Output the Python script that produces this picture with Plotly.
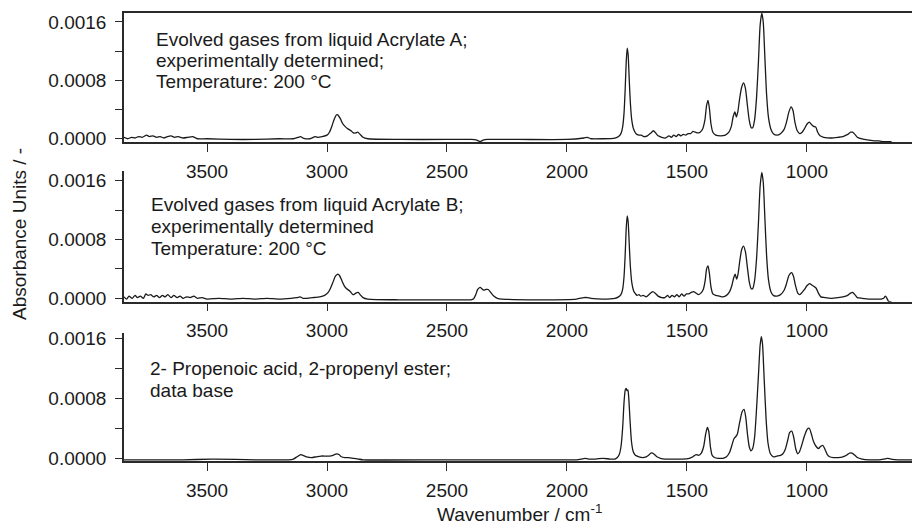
import plotly.graph_objects as go

# ---------------- spectra (wavenumber / cm-1, absorbance) ----------------
wn_a = [3846, 3830, 3815, 3800, 3785, 3770, 3752, 3740, 3725, 3710, 3695, 3680, 3665, 3650, 3635,
        3620, 3600, 3580, 3560, 3540, 3500, 3400, 3300, 3200, 3140, 3120, 3110, 3100, 3070, 3050,
        3040, 3020, 3000, 2990, 2980, 2970, 2960, 2955, 2945, 2935, 2925, 2915, 2900, 2890, 2880,
        2872, 2862, 2850, 2830, 2700, 2500, 2400, 2375, 2362, 2350, 2330, 2200, 2000, 1930, 1915,
        1900, 1850, 1800, 1785, 1775, 1768, 1762, 1757, 1753, 1749, 1745, 1741, 1736, 1730, 1722,
        1712, 1700, 1690, 1680, 1665, 1650, 1640, 1630, 1620, 1605, 1590, 1575, 1565, 1555, 1545,
        1535, 1525, 1515, 1505, 1495, 1485, 1475, 1465, 1455, 1445, 1435, 1425, 1418, 1412, 1406,
        1400, 1392, 1380, 1360, 1340, 1325, 1315, 1307, 1300, 1294, 1288, 1280, 1272, 1264, 1256,
        1248, 1240, 1232, 1226, 1218, 1210, 1202, 1195, 1188, 1182, 1175, 1168, 1160, 1150, 1140,
        1125, 1110, 1095, 1085, 1075, 1066, 1058, 1050, 1040, 1030, 1020, 1010, 1000, 990, 982,
        972, 963, 955, 945, 930, 900, 870, 850, 830, 818, 810, 800, 790, 775, 760,
        740, 720, 700, 680, 660, 647]
abs_a = [0.00001, -0.00001, 0.00001, 0.00000, 0.00002, 0.00001, 0.00004, 0.00002, 0.00003, 0.00001, 0.00002, 0.00000, 0.00002, 0.00003, 0.00001,
         0.00002, 0.00000, 0.00001, 0.00002, -0.00001, -0.00001, -0.00002, -0.00002, -0.00001, -0.00001, 0.00001, 0.00002, 0.00000, -0.00001, 0.00002,
         0.00001, 0.00002, 0.00004, 0.00008, 0.00016, 0.00026, 0.00032, 0.00032, 0.00027, 0.00020, 0.00016, 0.00013, 0.00010, 0.00007, 0.00007,
         0.00008, 0.00005, 0.00001, -0.00001, -0.00002, -0.00002, -0.00002, -0.00003, -0.00005, -0.00003, -0.00002, -0.00002, -0.00002, 0.00000, 0.00001,
         -0.00001, -0.00001, 0.00000, 0.00002, 0.00006, 0.00015, 0.00035, 0.00070, 0.00105, 0.00124, 0.00115, 0.00085, 0.00050, 0.00025, 0.00012,
         0.00006, 0.00004, 0.00004, 0.00002, 0.00003, 0.00007, 0.00010, 0.00007, 0.00003, 0.00001, 0.00000, 0.00003, 0.00001, 0.00004, 0.00002,
         0.00005, 0.00003, 0.00005, 0.00004, 0.00006, 0.00006, 0.00009, 0.00008, 0.00007, 0.00008, 0.00012, 0.00025, 0.00045, 0.00052, 0.00040,
         0.00020, 0.00008, 0.00004, 0.00003, 0.00004, 0.00008, 0.00016, 0.00030, 0.00036, 0.00029, 0.00036, 0.00055, 0.00070, 0.00076, 0.00068,
         0.00045, 0.00024, 0.00014, 0.00014, 0.00025, 0.00055, 0.00105, 0.00155, 0.00172, 0.00160, 0.00110, 0.00060, 0.00028, 0.00012, 0.00006,
         0.00004, 0.00006, 0.00012, 0.00022, 0.00036, 0.00043, 0.00038, 0.00022, 0.00010, 0.00006, 0.00008, 0.00013, 0.00019, 0.00022, 0.00019,
         0.00016, 0.00015, 0.00008, 0.00003, 0.00001, 0.00000, 0.00001, 0.00002, 0.00005, 0.00008, 0.00008, 0.00005, 0.00001, -0.00001, -0.00002,
         -0.00003, -0.00004, -0.00004, -0.00005, -0.00005, -0.00005]

wn_b = [3846, 3835, 3825, 3812, 3800, 3790, 3778, 3765, 3755, 3745, 3735, 3722, 3710, 3698, 3686,
        3675, 3663, 3650, 3638, 3625, 3612, 3600, 3585, 3570, 3555, 3540, 3520, 3500, 3450, 3400,
        3350, 3300, 3250, 3200, 3150, 3125, 3112, 3100, 3060, 3030, 3010, 2995, 2985, 2975, 2965,
        2955, 2948, 2938, 2928, 2918, 2905, 2895, 2888, 2880, 2870, 2862, 2850, 2830, 2700, 2500,
        2400, 2390, 2380, 2372, 2362, 2355, 2347, 2338, 2328, 2318, 2305, 2290, 2270, 2100, 1960,
        1930, 1915, 1900, 1850, 1800, 1785, 1775, 1768, 1762, 1757, 1753, 1749, 1745, 1741, 1736,
        1730, 1722, 1714, 1708, 1700, 1692, 1682, 1670, 1655, 1643, 1632, 1620, 1605, 1592, 1580,
        1572, 1562, 1552, 1542, 1532, 1522, 1512, 1502, 1492, 1482, 1472, 1462, 1452, 1442, 1432,
        1424, 1418, 1412, 1406, 1400, 1392, 1380, 1365, 1350, 1335, 1322, 1313, 1305, 1299, 1293,
        1287, 1280, 1272, 1264, 1256, 1248, 1240, 1232, 1226, 1218, 1210, 1202, 1195, 1188, 1182,
        1175, 1168, 1160, 1150, 1140, 1125, 1110, 1095, 1085, 1075, 1064, 1056, 1048, 1038, 1030,
        1020, 1010, 1000, 988, 980, 970, 962, 952, 942, 925, 900, 870, 850, 830, 818,
        810, 800, 790, 770, 740, 710, 690, 680, 673, 668, 660, 650, 647]
abs_b = [0.00002, -0.00001, 0.00003, 0.00000, 0.00004, 0.00001, 0.00003, 0.00000, 0.00006, 0.00004, 0.00005, 0.00002, 0.00004, 0.00001, 0.00004,
         0.00002, 0.00005, 0.00001, 0.00004, 0.00001, 0.00003, 0.00000, 0.00002, 0.00001, 0.00003, 0.00000, 0.00001, -0.00001, 0.00000, -0.00001,
         0.00000, -0.00001, 0.00000, -0.00001, 0.00000, 0.00001, 0.00002, 0.00000, 0.00001, 0.00002, 0.00004, 0.00008, 0.00014, 0.00022, 0.00030,
         0.00033, 0.00031, 0.00024, 0.00017, 0.00013, 0.00010, 0.00006, 0.00005, 0.00007, 0.00008, 0.00005, 0.00001, -0.00001, -0.00002, -0.00002,
         -0.00002, -0.00001, 0.00005, 0.00012, 0.00015, 0.00013, 0.00011, 0.00012, 0.00012, 0.00008, 0.00003, 0.00000, -0.00001, -0.00002, -0.00001,
         0.00001, 0.00001, 0.00000, -0.00001, 0.00000, 0.00002, 0.00005, 0.00012, 0.00030, 0.00062, 0.00095, 0.00112, 0.00104, 0.00078, 0.00045,
         0.00022, 0.00010, 0.00006, 0.00004, 0.00005, 0.00003, 0.00004, 0.00002, 0.00006, 0.00009, 0.00007, 0.00003, 0.00001, 0.00001, 0.00004,
         0.00001, 0.00004, 0.00002, 0.00005, 0.00002, 0.00006, 0.00003, 0.00006, 0.00006, 0.00008, 0.00009, 0.00007, 0.00005, 0.00007, 0.00012,
         0.00024, 0.00040, 0.00044, 0.00033, 0.00016, 0.00006, 0.00004, 0.00003, 0.00002, 0.00004, 0.00009, 0.00017, 0.00028, 0.00033, 0.00026,
         0.00033, 0.00050, 0.00066, 0.00071, 0.00063, 0.00042, 0.00022, 0.00013, 0.00013, 0.00024, 0.00053, 0.00102, 0.00152, 0.00171, 0.00158,
         0.00108, 0.00058, 0.00025, 0.00009, 0.00004, 0.00003, 0.00005, 0.00011, 0.00020, 0.00031, 0.00035, 0.00030, 0.00018, 0.00007, 0.00005,
         0.00008, 0.00012, 0.00017, 0.00020, 0.00018, 0.00016, 0.00014, 0.00007, 0.00002, 0.00001, 0.00000, 0.00001, 0.00002, 0.00004, 0.00007,
         0.00008, 0.00005, 0.00001, 0.00000, -0.00001, -0.00001, -0.00001, 0.00000, 0.00003, 0.00001, -0.00004, -0.00005, -0.00005]

wn_db = [3846, 3600, 3480, 3470, 3300, 3160, 3140, 3125, 3110, 3100, 3085, 3065, 3045, 3025, 3005,
         2990, 2975, 2960, 2950, 2940, 2925, 2910, 2890, 2870, 2850, 2500, 2100, 1960, 1940, 1925,
         1910, 1880, 1850, 1820, 1800, 1790, 1782, 1775, 1768, 1762, 1757, 1753, 1750, 1746, 1742,
         1737, 1731, 1724, 1715, 1700, 1685, 1670, 1660, 1650, 1643, 1635, 1625, 1610, 1590, 1560,
         1520, 1490, 1475, 1462, 1452, 1440, 1430, 1422, 1415, 1409, 1402, 1395, 1385, 1370, 1350,
         1335, 1322, 1312, 1304, 1296, 1290, 1280, 1270, 1262, 1255, 1248, 1240, 1233, 1226, 1218,
         1210, 1202, 1195, 1190, 1185, 1178, 1170, 1162, 1152, 1140, 1125, 1110, 1100, 1090, 1080,
         1072, 1063, 1055, 1046, 1038, 1032, 1022, 1010, 998, 990, 982, 972, 962, 952, 942,
         933, 925, 915, 905, 890, 870, 850, 835, 822, 812, 800, 790, 770, 740, 700,
         680, 665, 650, 620, 560]
abs_db = [-0.00002, -0.00002, -0.00001, -0.00001, -0.00002, -0.00002, -0.00001, 0.00002, 0.00005, 0.00004, 0.00002, 0.00001, 0.00002, 0.00003, 0.00003,
          0.00003, 0.00004, 0.00006, 0.00005, 0.00002, 0.00001, 0.00001, 0.00000, -0.00001, -0.00002, -0.00002, -0.00002, -0.00002, -0.00001, 0.00000,
          -0.00001, -0.00001, 0.00000, -0.00001, -0.00001, 0.00001, 0.00005, 0.00015, 0.00040, 0.00075, 0.00091, 0.00093, 0.00090, 0.00091, 0.00078,
          0.00050, 0.00022, 0.00009, 0.00004, 0.00002, 0.00001, 0.00002, 0.00004, 0.00007, 0.00007, 0.00005, 0.00002, 0.00000, -0.00001, -0.00001,
          -0.00001, 0.00000, 0.00002, 0.00005, 0.00004, 0.00007, 0.00016, 0.00032, 0.00041, 0.00036, 0.00015, 0.00004, 0.00001, 0.00000, 0.00000,
          0.00002, 0.00008, 0.00018, 0.00026, 0.00029, 0.00032, 0.00048, 0.00062, 0.00065, 0.00055, 0.00033, 0.00015, 0.00010, 0.00013, 0.00028,
          0.00065, 0.00110, 0.00150, 0.00162, 0.00152, 0.00105, 0.00052, 0.00020, 0.00006, 0.00002, 0.00003, 0.00004, 0.00006, 0.00012, 0.00024,
          0.00034, 0.00036, 0.00028, 0.00012, 0.00006, 0.00008, 0.00017, 0.00030, 0.00039, 0.00040, 0.00033, 0.00022, 0.00016, 0.00013, 0.00016,
          0.00017, 0.00012, 0.00005, 0.00002, 0.00001, 0.00001, 0.00002, 0.00004, 0.00007, 0.00007, 0.00004, 0.00001, -0.00001, -0.00002, -0.00002,
          -0.00001, 0.00000, -0.00001, -0.00002, -0.00002]

x_ticks = [3500, 3000, 2500, 2000, 1500, 1000]
y_ticks = [0.0, 0.0008, 0.0016]
y_tick_text = ["0.0000", "0.0008", "0.0016"]
y_minor = [0.0004, 0.0012]

panel_labels = [
    ["Evolved gases from liquid Acrylate A;", "experimentally determined;", "Temperature: 200 °C"],
    ["Evolved gases from liquid Acrylate B;", "experimentally determined", "Temperature: 200 °C"],
    ["2- Propenoic acid, 2-propenyl ester;", "data base"],
]

# ---------------- layout geometry ----------------
W, H = 912, 528
L, R, T, B = 124, 0, 13, 67
PW, PH = W - L - R, H - T - B


def py(y_px):
    """pixel row -> paper y"""
    return (H - B - y_px) / PH


def px(x_px):
    """pixel column -> paper x"""
    return (x_px - L) / PW


FONT = "Liberation Sans, Arial, sans-serif"
INK = "#1a1a1a"
AX = "#2a2a2a"

domains = [[py(142), 1.0], [py(301.7), py(171)], [0.0, py(333)]]
y_ranges = [[-0.000055, 0.001724], [-0.000046, 0.00173], [-0.000036, 0.001667]]

fig = go.Figure()
for i, (xs, ys) in enumerate([(wn_a, abs_a), (wn_b, abs_b), (wn_db, abs_db)]):
    sfx = "" if i == 0 else str(i + 1)
    fig.add_trace(go.Scatter(
        x=xs, y=ys, mode="lines", xaxis="x" + sfx, yaxis="y" + sfx,
        line=dict(color=INK, width=1.3, shape="spline", smoothing=0.6),
        showlegend=False, hoverinfo="skip"))

layout = dict(
    width=W, height=H,
    margin=dict(l=L, r=R, t=T, b=B, pad=0),
    paper_bgcolor="white", plot_bgcolor="white",
    font=dict(family=FONT, size=19, color=INK),
    showlegend=False,
)

for i in range(3):
    sfx = "" if i == 0 else str(i + 1)
    layout["xaxis" + sfx] = dict(
        domain=[0, 1], anchor="y" + sfx, range=[3846, 562],
        tickmode="array", tickvals=x_ticks, ticks="outside", ticklen=8,
        tickwidth=1.2, tickcolor=AX, showline=True, linewidth=1.5, linecolor=AX,
        mirror=(i == 0), showgrid=False, zeroline=False,
        tickfont=dict(family=FONT, size=19, color=INK), ticklabelstandoff=3,
    )
    layout["yaxis" + sfx] = dict(
        domain=domains[i], anchor="x" + sfx, range=y_ranges[i],
        tickmode="array", tickvals=y_ticks, ticktext=y_tick_text,
        ticks="outside", ticklen=7, tickwidth=1.2, tickcolor=AX,
        minor=dict(tickmode="array", tickvals=y_minor, ticks="outside",
                   ticklen=7, tickwidth=1.2, tickcolor=AX, showgrid=False),
        showline=True, linewidth=1.5, linecolor=AX,
        showgrid=False, zeroline=False,
        tickfont=dict(family=FONT, size=19, color=INK), ticklabelstandoff=5,
    )

annotations = []
label_pos = [(154, [39, 60, 81]), (149, [204, 226, 248]), (148, [368, 390])]
for lines, (x0, ys) in zip(panel_labels, label_pos):
    for text, yc in zip(lines, ys):
        annotations.append(dict(
            text=text, xref="paper", yref="paper", x=px(x0), y=py(yc),
            xanchor="left", yanchor="middle", showarrow=False,
            font=dict(family=FONT, size=19, color=INK)))

annotations.append(dict(
    text="Absorbance Units / -", xref="paper", yref="paper",
    x=px(19), y=py(234), xanchor="center", yanchor="middle",
    textangle=-90, showarrow=False, font=dict(family=FONT, size=19, color=INK)))
annotations.append(dict(
    text="Wavenumber / cm<sup>-1</sup>", xref="paper", yref="paper",
    x=px(519), y=py(527), xanchor="center", yanchor="bottom",
    showarrow=False, font=dict(family=FONT, size=19, color=INK)))

layout["annotations"] = annotations
fig.update_layout(**layout)

fig.write_html("out.html")
